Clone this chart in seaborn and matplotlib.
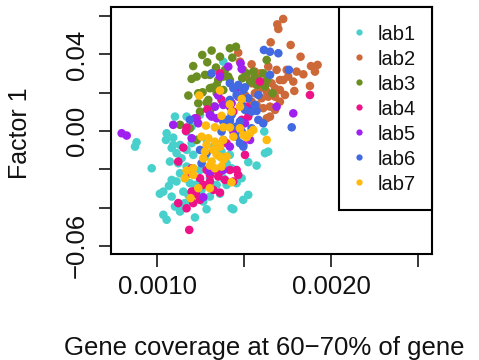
import matplotlib
matplotlib.use("Agg")
import matplotlib.pyplot as plt
import seaborn as sns
import pandas as pd
from matplotlib.lines import Line2D

labs = ["lab1", "lab2", "lab3", "lab4", "lab5", "lab6", "lab7"]
colors = ["#48D1CC", "#CD6839", "#6B8E23", "#EE1289", "#A020F0", "#4169E1", "#FFB90F"]

lab1_x = [0.000881,0.000872,0.000968,0.001054,0.001092,0.001050,0.001015,0.001067,0.001083,0.001102,
          0.001035,0.001054,0.001131,0.001150,0.001217,0.001284,0.001121,0.001111,0.001140,0.001169,
          0.001207,0.001083,0.001111,0.001131,0.001159,0.001188,0.001217,0.001246,0.001150,0.001179,
          0.001227,0.001255,0.001121,0.001159,0.001188,0.001265,0.001303,0.001361,0.001399,0.001342,
          0.001380,0.001092,0.001131,0.001198,0.001227,0.001207,0.001246,0.001428,0.001169,0.001616,
          0.001639,0.001572,0.001524,0.001418,0.001457,0.001438,0.001486,0.001083,0.001275,0.001361,
          0.001399,0.001428,0.001620,0.001303,0.001495,0.001035,0.001524,0.001370,0.001380,0.001102,
          0.001169,0.001246,0.001169,0.001332,0.001198,0.001284,0.001323,0.001073]
lab1_y = [-0.0059,-0.0082,-0.0195,-0.0012,-0.0035,-0.0047,-0.0328,-0.0287,-0.0343,-0.0395,
          -0.0438,-0.0464,-0.0421,-0.0404,-0.0452,-0.0409,-0.0169,-0.0116,-0.0143,-0.0099,
          -0.0125,-0.0256,-0.0264,-0.0221,-0.0247,-0.0273,-0.0282,-0.0256,-0.0317,-0.0334,
          -0.0334,-0.0308,-0.0377,-0.0377,-0.0360,-0.0369,-0.0343,-0.0328,-0.0282,-0.0282,
          -0.0247,-0.0073,-0.0073,-0.0064,-0.0047,-0.0195,-0.0204,-0.0404,-0.0186,-0.0003,
          -0.0108,-0.0181,-0.0163,-0.0125,-0.0273,-0.0409,-0.0247,-0.0089,-0.0134,-0.0134,
          -0.0169,-0.0195,-0.0116,-0.0247,-0.0360,-0.0317,-0.0334,-0.0108,0.0362,0.0075,
          0.0075,0.0084,-0.0003,0.0127,0.0023,-0.0047,-0.0082,-0.0160]

lab2_x = [0.001725,0.001691,0.001697,0.001653,0.001768,0.001825,0.001885,0.001923,0.001908,0.001841,
          0.001879,0.001789,0.001735,0.001630,0.001543,0.001595,0.001745,0.001754,0.001706,0.001658,
          0.001678,0.001630,0.001601,0.001572,0.001543,0.001505,0.001639,0.001687,0.001601,0.001466,
          0.001476,0.001562,0.001514,0.001543,0.001591,0.001562,0.001639,0.001678,0.001706,0.001725,
          0.001610,0.001649,0.001706,0.001678,0.001649,0.001802,0.001783,0.001495]
lab2_y = [0.0585,0.0557,0.0533,0.0463,0.0449,0.0388,0.0339,0.0345,0.0310,0.0296,
          0.0235,0.0209,0.0188,0.0066,0.0348,0.0301,0.0319,0.0284,0.0266,0.0249,
          0.0223,0.0206,0.0171,0.0136,0.0153,0.0188,0.0336,0.0319,0.0240,0.0409,
          0.0362,0.0310,0.0284,0.0249,0.0223,0.0197,0.0179,0.0179,0.0214,0.0266,
          0.0119,0.0127,0.0153,0.0110,0.0075,0.0310,0.0258,0.0319]

lab3_x = [0.001313,0.001361,0.001259,0.001288,0.001207,0.001338,0.001227,0.001198,0.001275,0.001303,
          0.001351,0.001342,0.001179,0.001261,0.001313,0.001236,0.001284,0.001246,0.001303,0.001323,
          0.001418,0.001453,0.001432,0.001390,0.001409,0.001380,0.001514,0.001534,0.001562,0.001610,
          0.001582,0.001630,0.001664,0.001601,0.001236,0.001303,0.001342,0.001294,0.001418,0.001380,
          0.001630,0.001489,0.001572,0.001620,0.001553,0.001131,0.001227,0.001188]
lab3_y = [0.0420,0.0388,0.0397,0.0359,0.0339,0.0331,0.0284,0.0272,0.0293,0.0293,
          0.0266,0.0240,0.0185,0.0202,0.0226,0.0145,0.0148,0.0101,0.0101,0.0127,
          0.0432,0.0440,0.0383,0.0319,0.0284,0.0284,0.0301,0.0258,0.0280,0.0301,
          0.0266,0.0266,0.0197,0.0249,0.0197,0.0223,0.0197,0.0162,0.0266,0.0214,
          0.0371,0.0275,0.0240,0.0232,0.0310,0.0032,-0.0047,0.0014]

lab4_x = [0.001165,0.001150,0.001121,0.001198,0.001246,0.001284,0.001303,0.001361,0.001390,0.001265,
          0.001223,0.001246,0.001121,0.001169,0.001184,0.001207,0.001323,0.001418,0.001188,0.001332,
          0.001351,0.001438,0.001457,0.001466,0.001505,0.001303,0.001198,0.001207,0.001361,0.001361,
          0.001591,0.001288,0.001438,0.001524,0.001486,0.001879,0.001227,0.001169,0.001418,0.001370,
          0.001514,0.001399]
lab4_y = [0.0000,-0.0087,-0.0160,-0.0195,-0.0247,-0.0204,-0.0230,-0.0212,-0.0256,-0.0282,
          -0.0328,-0.0360,-0.0377,-0.0404,-0.0517,-0.0317,-0.0308,-0.0204,-0.0221,-0.0204,
          -0.0238,-0.0264,-0.0204,-0.0230,-0.0125,-0.0264,-0.0317,-0.0377,-0.0322,0.0301,
          0.0258,0.0113,0.0101,0.0075,0.0058,0.0188,0.0066,0.0018,0.0058,0.0162,
          0.0127,-0.0064]

lab5_x = [0.000795,0.000824,0.001480,0.001486,0.001409,0.001361,0.001457,0.001351,0.001332,0.001380,
          0.001428,0.001313,0.001342,0.001217,0.001236,0.001303,0.001418,0.001466,0.001543,0.001505,
          0.001092,0.001198,0.001303,0.001380,0.001265,0.001495,0.001534,0.001783,0.001687,0.001438,
          0.001418]
lab5_y = [-0.0012,-0.0024,0.0353,0.0324,0.0336,0.0284,0.0223,0.0185,0.0127,0.0136,
          0.0145,0.0075,0.0066,0.0066,0.0040,0.0084,0.0127,0.0179,0.0110,0.0040,
          0.0032,-0.0038,-0.0212,-0.0204,-0.0346,-0.0073,-0.0047,0.0092,0.0127,-0.0003,
          -0.0082]

lab6_x = [0.001614,0.001649,0.001697,0.001758,0.001649,0.001582,0.001562,0.001572,0.001774,0.001543,
          0.001505,0.001466,0.001505,0.001457,0.001524,0.001428,0.001486,0.001313,0.001418,0.001438,
          0.001495,0.001476,0.001418,0.001188,0.001582,0.001610,0.001380,0.001543,0.001399,0.001457,
          0.001457,0.001476,0.001246,0.001284,0.001255,0.001495,0.001380,0.001486,0.001418,0.001370]
lab6_y = [0.0423,0.0414,0.0406,0.0319,0.0293,0.0188,0.0136,0.0105,0.0019,0.0101,
          0.0110,0.0240,0.0228,0.0188,0.0171,0.0084,0.0136,0.0301,0.0249,0.0223,
          0.0214,0.0049,0.0049,0.0058,0.0058,0.0040,0.0049,0.0014,0.0058,0.0023,
          -0.0030,-0.0064,-0.0099,-0.0116,-0.0169,-0.0082,-0.0047,-0.0003,0.0162,-0.0003]

lab7_x = [0.001242,0.001361,0.001418,0.001486,0.001476,0.001428,0.001370,0.001280,0.001332,0.001380,
          0.001255,0.001294,0.001284,0.001332,0.001380,0.001418,0.001438,0.001495,0.001534,0.001553,
          0.001514,0.001630,0.001361,0.001313,0.001303,0.001332,0.001207,0.001207,0.001169,0.001159,
          0.001236,0.001303,0.001428,0.001192,0.001323,0.001265,0.001380,0.001476,0.001275,0.001361,
          0.001342,0.001399,0.001370]
lab7_y = [0.0185,0.0211,0.0139,0.0167,0.0127,0.0101,0.0079,0.0028,0.0019,0.0019,
          -0.0030,-0.0038,-0.0073,-0.0056,-0.0047,0.0018,-0.0030,-0.0021,-0.0012,0.0005,
          -0.0033,-0.0047,-0.0134,-0.0160,-0.0181,-0.0195,-0.0195,-0.0230,-0.0207,-0.0247,
          -0.0299,-0.0299,-0.0268,-0.0351,-0.0099,-0.0143,-0.0151,0.0014,-0.0108,-0.0082,
          -0.0125,-0.0134,-0.0186]

x_ticks = [0.0010, 0.0015, 0.0020, 0.0025]
x_ticklabels = ["0.0010", "", "0.0020", ""]
y_ticks = [-0.06, -0.04, -0.02, 0.00, 0.02, 0.04, 0.06]
y_ticklabels = ["\u22120.06", "", "", "0.00", "", "0.04", ""]

series = [(lab1_x, lab1_y), (lab2_x, lab2_y), (lab3_x, lab3_y), (lab4_x, lab4_y),
          (lab5_x, lab5_y), (lab6_x, lab6_y), (lab7_x, lab7_y)]
df = pd.concat([pd.DataFrame({"x": sx, "y": sy, "lab": name})
                for name, (sx, sy) in zip(labs, series)], ignore_index=True)

sns.set_theme(style="ticks")
plt.rcParams["font.family"] = ["Liberation Sans", "DejaVu Sans"]

fig = plt.figure(figsize=(4.79, 3.6), dpi=100)
ax = fig.add_axes([0.2311, 0.2944, 0.6702, 0.6853])

sns.scatterplot(data=df, x="x", y="y", hue="lab", hue_order=labs,
                palette=dict(zip(labs, colors)), s=38, linewidth=0,
                legend=False, ax=ax)

ax.set_xlim(0.000732, 0.00258)
ax.set_ylim(-0.0643, 0.0646)
ax.set_xticks(x_ticks)
ax.set_xticklabels(x_ticklabels)
ax.set_yticks(y_ticks)
ax.set_yticklabels(y_ticklabels, rotation=90, va="center")
ax.tick_params(axis="both", length=9, width=1.1, color="black",
               labelcolor="#111111", labelsize=18.5, direction="out")
ax.tick_params(axis="x", pad=6)
ax.tick_params(axis="y", pad=6.5)
for sp in ax.spines.values():
    sp.set_visible(True)
    sp.set_color("black")
    sp.set_linewidth(1.5)

ax.set_xlabel("Gene coverage at 60\u221270% of gene", fontsize=18.5, color="#111111")
ax.set_ylabel("Factor 1", fontsize=18, color="#111111")
ax.xaxis.label.set_va("baseline")
ax.yaxis.label.set_va("baseline")
ax.xaxis.set_label_coords(0.477, -0.409)
ax.yaxis.set_label_coords(-0.2607, 0.49)

handles = [Line2D([], [], marker="o", linestyle="", markersize=4.5,
                  markerfacecolor=c, markeredgewidth=0) for c in colors]
leg = ax.legend(handles, labs, loc="upper right", bbox_to_anchor=(1, 1),
                borderaxespad=0, frameon=True, fancybox=False, edgecolor="black",
                framealpha=1, fontsize=14.5, borderpad=0.78, handlelength=0.4,
                handleheight=1.24, handletextpad=0.74, labelspacing=0.18)
leg.get_frame().set_linewidth(1.5)
for t in leg.get_texts():
    t.set_color("#111111")

fig.savefig("out.png", dpi=100)
